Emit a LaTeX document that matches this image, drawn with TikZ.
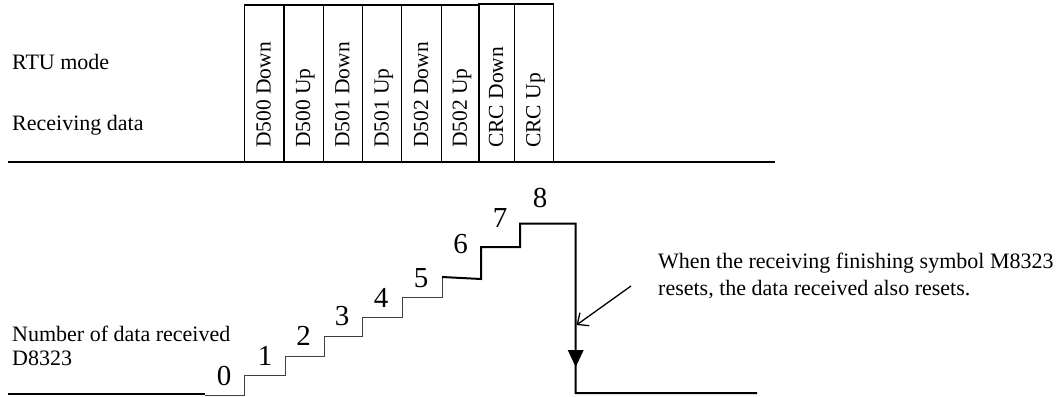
\documentclass[tikz,border=0pt]{standalone}
\usepackage{fontspec}
\setmainfont{Liberation Serif}
\usetikzlibrary{arrows.meta}
\tikzset{
  lbl/.style={anchor=base west, inner sep=0pt, font=\fontsize{22}{27}\selectfont},
  boxtxt/.style={rotate=90, anchor=base west, inner sep=0pt, font=\fontsize{21.5}{26}\selectfont},
  num/.style={anchor=base, inner sep=0pt, font=\fontsize{29}{34}\selectfont},
  cell/.style={draw, line width=1.5pt},
  thickline/.style={line width=2pt},
  thinline/.style={line width=0.8pt, black!75},
}
\begin{document}
\begin{tikzpicture}[x=1pt, y=-1pt]
\useasboundingbox (0,0) rectangle (1059,396);
% left labels
\node[lbl] (rtu) at (12,70) {RTU mode};
\node[lbl] (recv) at (12,130) {Receiving data};
\node[lbl] (num1) at (12,341) {Number of data received};
\node[lbl] (num2) at (12,365) {D8323};
% top baseline
\draw[thickline] (8,162) -- (775,162);
% data boxes
\foreach \l/\r/\t/\txt [count=\i] in {244.3/284/5/D500 Down, 284/323.3/5/D500 Up, 323.3/362.3/5/D501 Down, 362.3/401.7/5/D501 Up, 401.7/441.7/5/D502 Down, 441.7/479/5/D502 Up, 479/514.3/4/CRC Down, 514.3/553.3/4/CRC Up}{
  \draw[cell] (\l,162) rectangle (\r,\t);
  \node[boxtxt] (b\i) at ({(\l+\r)/2+6.5},148) {\txt};
}
% bottom left line
\draw[thickline] (8,394) -- (205,394);
% stairs
\draw[thinline] (205,395) -- (244.5,395) -- (244.5,375) -- (285,375) -- (285,356) -- (324,356) -- (324,336) -- (362.5,336) -- (362.5,317) -- (402,317) -- (402,297) -- (442,297) -- (442,277);
\draw[thickline, line join=miter] (442,277) -- (481,279) -- (481,247) -- (520,247) -- (520,223.5) -- (575.7,223.5) -- (575.7,393) -- (757,393);
\fill (567.7,350) -- (583.7,350) -- (575.7,367) -- cycle;
% numbers
\node[num] (n0) at (224,385) {0};
\node[num] (n1) at (265,365) {1};
\node[num] (n2) at (303.5,345) {2};
\node[num] (n3) at (342,325) {3};
\node[num] (n4) at (381,307) {4};
\node[num] (n5) at (421,287) {5};
\node[num] (n6) at (460.5,253) {6};
\node[num] (n7) at (500,227) {7};
\node[num] (n8) at (540,207) {8};
% annotation
\node[lbl] (note1) at (658,268) {When the receiving finishing symbol M8323};
\node[lbl] (note2) at (658,295) {resets, the data received also resets.};
\coordinate (ast) at (631,286);
\coordinate (aend) at (576.5,325);
\draw[line width=1.3pt, -{Straight Barb[length=9pt, width=16pt, line width=1.3pt]}] (ast) -- (aend);
\end{tikzpicture}
\end{document}
